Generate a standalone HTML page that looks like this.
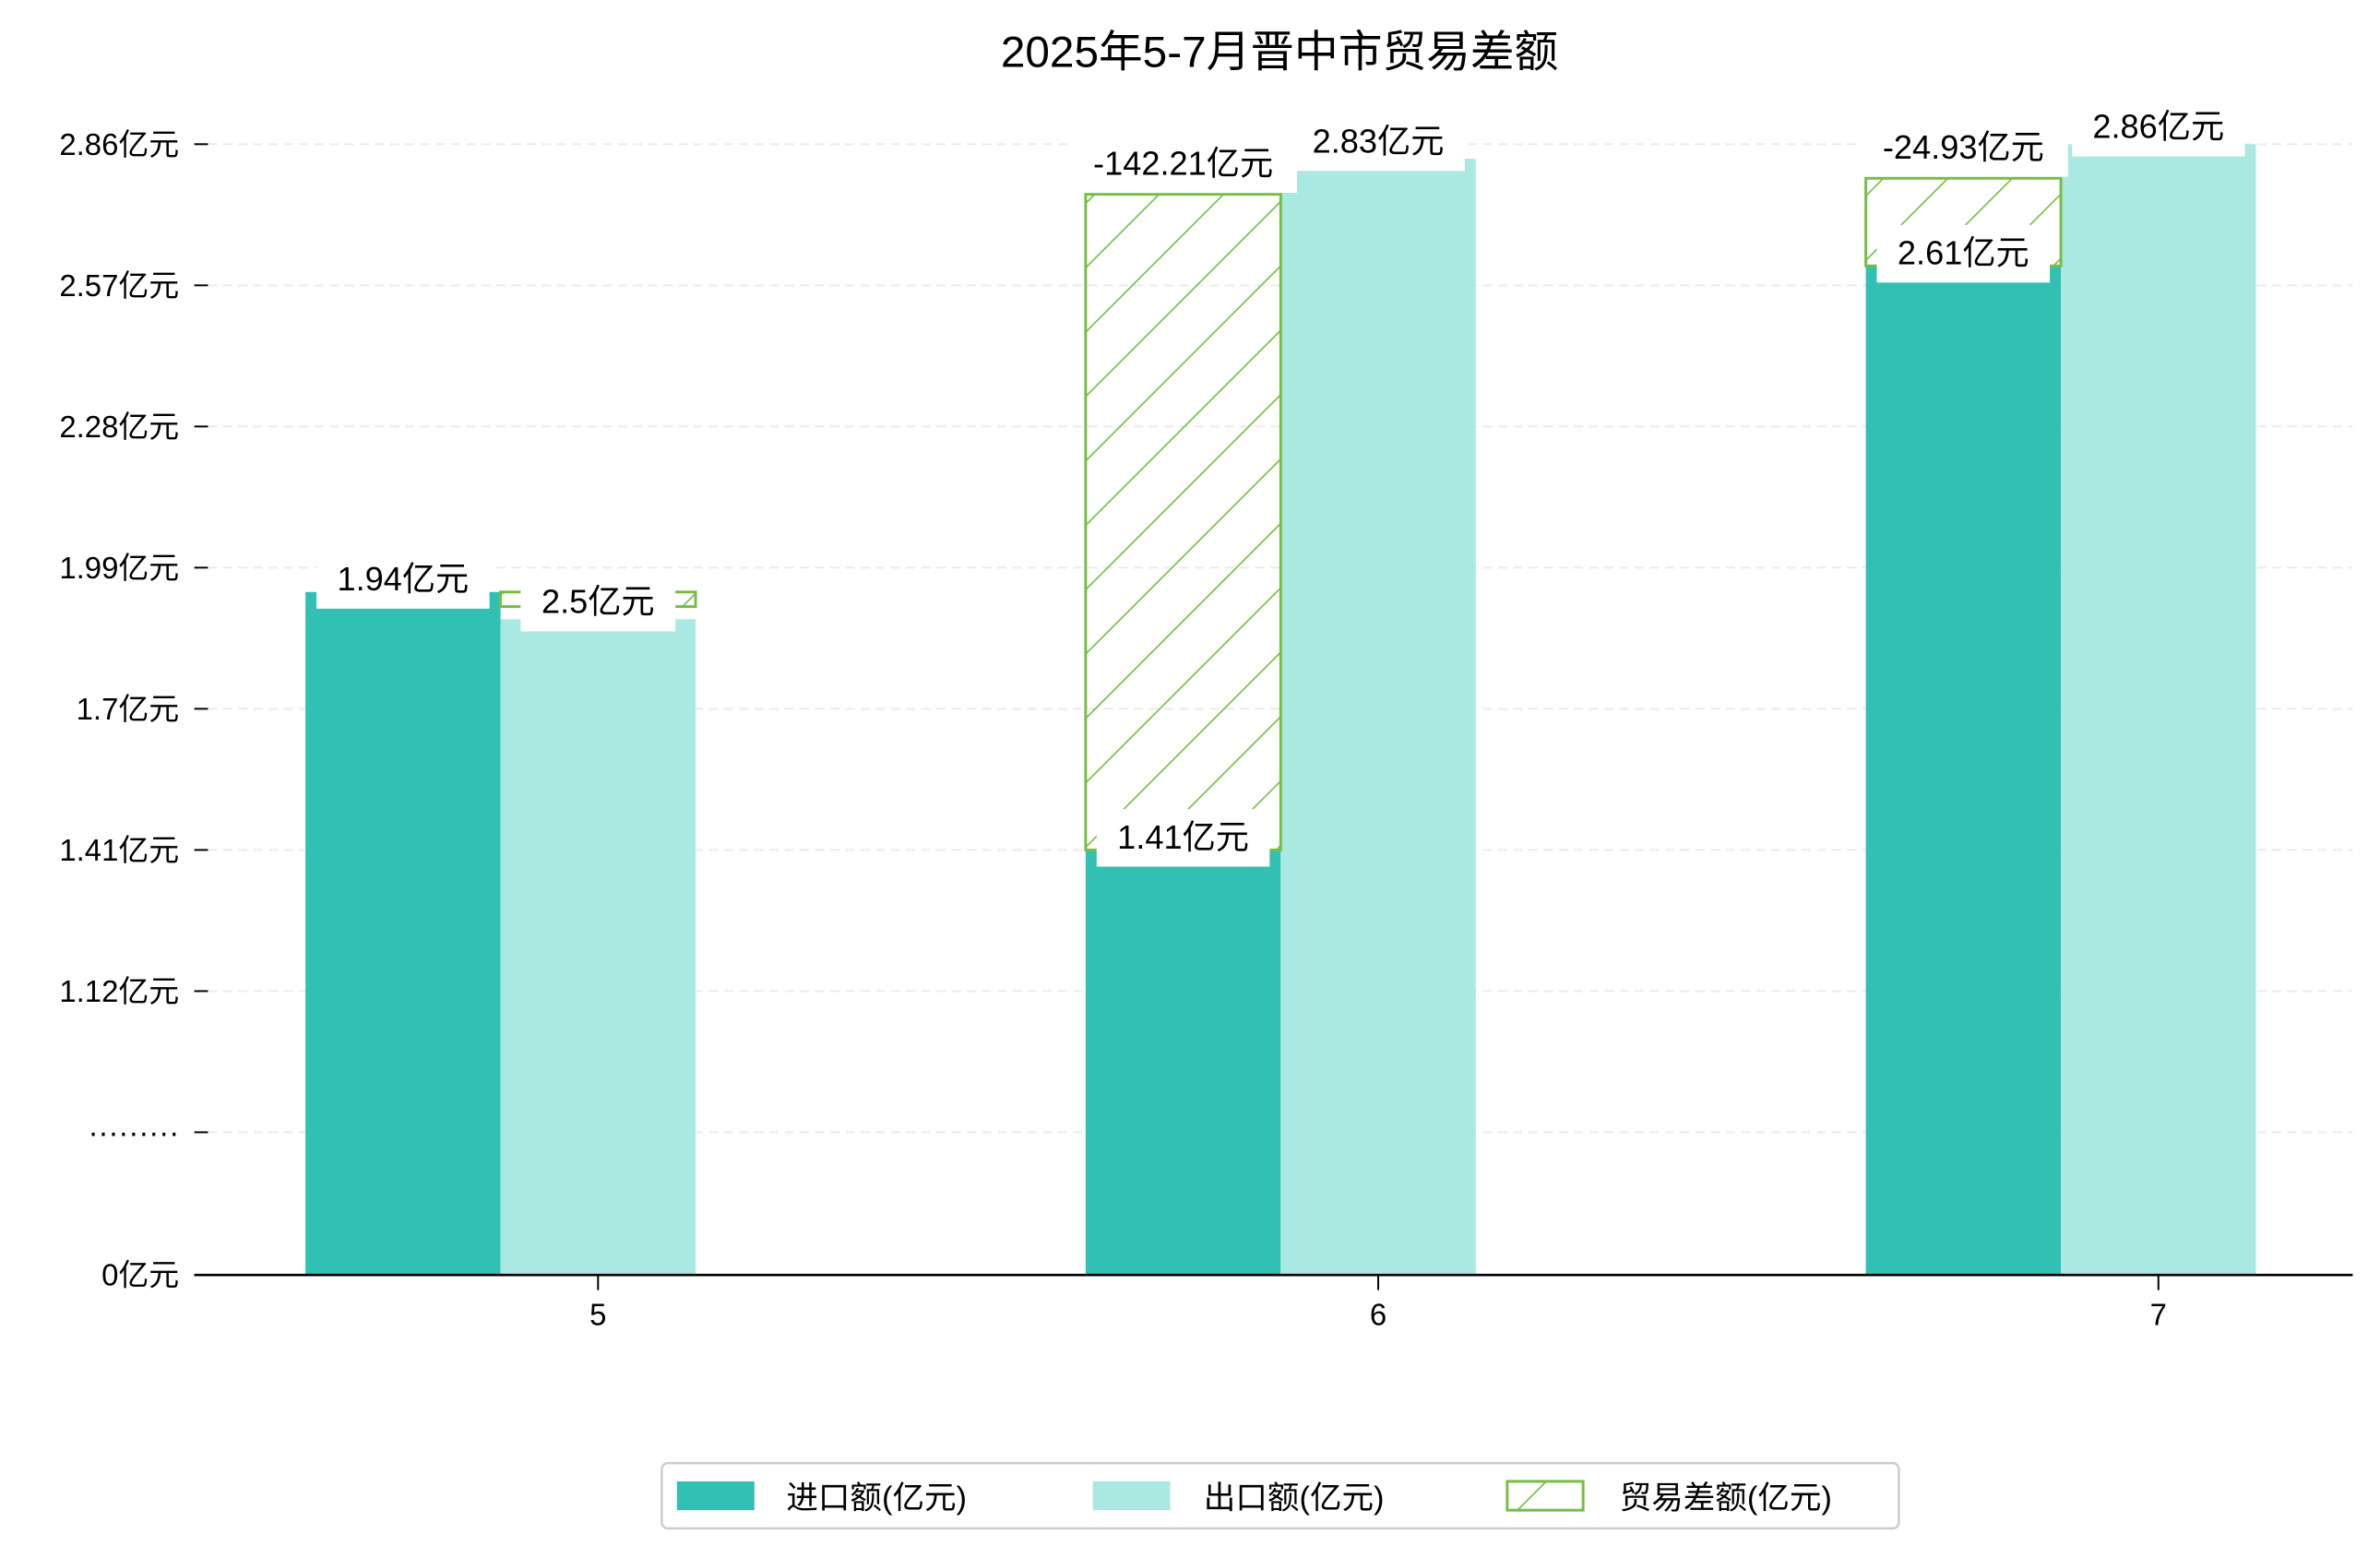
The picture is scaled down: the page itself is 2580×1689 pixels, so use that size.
<!DOCTYPE html>
<html><head><meta charset="utf-8">
<style>
html,body{margin:0;padding:0;background:#fff;}
svg{display:block;}
text{font-family:"Liberation Sans","Noto Sans CJK SC","WenQuanYi Zen Hei",sans-serif;fill:#000;}
</style></head>
<body>
<svg id="chart" width="2580" height="1689" viewBox="0 0 1568 1026.5" preserveAspectRatio="none" xmlns="http://www.w3.org/2000/svg">
<defs>
<pattern id="hatch" patternUnits="userSpaceOnUse" width="30" height="30" patternTransform="rotate(45)">
<line x1="0" y1="0" x2="0" y2="30" stroke="#76bd43" stroke-width="2"/>
</pattern>
</defs>
<text x="843" y="44" font-size="29" text-anchor="middle">2025年5-7月晋中市贸易差额</text>
<g id="grid"></g>
<g id="bars"></g>
<g id="labels"></g>
<g id="axes"></g>
<g>
<rect x="436" y="964" width="815" height="43" rx="4" fill="#fff" stroke="#ccc" stroke-width="1.5"/>
<rect x="446" y="976" width="51" height="19" fill="#31c0b3"/>
<text x="518" y="994" font-size="21">进口额(亿元)</text>
<rect x="720" y="976" width="51" height="19" fill="#aae8e2"/>
<text x="793" y="994" font-size="21">出口额(亿元)</text>
<rect x="993" y="976" width="50" height="19" fill="url(#hatch)" stroke="#76bd43" stroke-width="1.8"/>
<text x="1067" y="994" font-size="21">贸易差额(亿元)</text>
</g>
</svg>
<script>
const categories = ["5","6","7"];
const importValues = [1.94, 1.41, 2.61];
const exportValues = [1.884, 2.83, 2.86];
const balanceTop = [1.94, 2.757, 2.79];
const balanceBase = [1.91, 1.41, 2.61];
const balanceColumn = [1, 0, 0];
const importLabels = ["1.94亿元","1.41亿元","2.61亿元"];
const exportLabels = ["2.5亿元","2.83亿元","2.86亿元"];
const balanceLabels = ["","-142.21亿元","-24.93亿元"];
const tickValues = [0, 0.83, 1.12, 1.41, 1.70, 1.99, 2.28, 2.57, 2.86];
const tickLabels = ["0亿元","·········","1.12亿元","1.41亿元","1.7亿元","1.99亿元","2.28亿元","2.57亿元","2.86亿元"];

const NS = "http://www.w3.org/2000/svg";
function y(v){ return v >= 0.83 ? 746 - (v - 0.83) / 0.29 * 93 : 840 - v / 0.83 * 94; }
const x0 = 394, step = 514, bw = 128.5;
function xc(i){ return x0 + i * step; }
function colX(i, c){ return xc(i) - 1.5 * bw + c * bw; }
function mk(tag, attrs, parent){ const e = document.createElementNS(NS, tag); for (const k in attrs) e.setAttribute(k, attrs[k]); parent.appendChild(e); return e; }

const grid = document.getElementById('grid'), axes = document.getElementById('axes');
const bars = document.getElementById('bars'), labels = document.getElementById('labels');
tickValues.forEach((v, i) => {
  const yy = y(v);
  if (i > 0) {
    const g = mk('line', {x1:137, x2:1550, y1:yy, y2:yy, stroke:'#ebebeb', 'stroke-width':1.2, 'stroke-dasharray':'6 4'}, grid);
    
    
  }
  const t = mk('line', {x1:128, x2:137, y1:yy, y2:yy, stroke:'#000', 'stroke-width':1.2}, axes);
  
  
  const tl = mk('text', {x:118, y:yy + 7, 'font-size':20, 'text-anchor':'end'}, axes);
  tl.textContent = tickLabels[i];
  
  
});
const ax = mk('line', {x1:128, x2:1550, y1:840, y2:840, stroke:'#000', 'stroke-width':1.6}, axes);



function label(txt, cx, top, name){
  if (!txt) return;
  const w = txt.length * 12 + 42;
  const r = mk('rect', {x:cx - w/2, y:top - 38, width:w, height:38, fill:'#fff'}, labels);
  
  
  const t = mk('text', {x:cx, y:top - 12, 'font-size':22, 'text-anchor':'middle'}, labels);
  t.textContent = txt;
  
  
}

categories.forEach((c, i) => {
  const r1 = mk('rect', {x:colX(i,0), y:y(importValues[i]), width:bw, height:840 - y(importValues[i]), fill:'#31c0b3'}, bars);
  
  
  const r2 = mk('rect', {x:colX(i,1), y:y(exportValues[i]), width:bw, height:840 - y(exportValues[i]), fill:'#aae8e2'}, bars);
  
  
  const bx = colX(i, balanceColumn[i]);
  const r3 = mk('rect', {x:bx, y:y(balanceTop[i]), width:bw, height:y(balanceBase[i]) - y(balanceTop[i]), fill:'url(#hatch)', stroke:'#76bd43', 'stroke-width':1.8}, bars);
  
  
  const tk = mk('line', {x1:xc(i), x2:xc(i), y1:840, y2:850, stroke:'#000', 'stroke-width':1.2}, axes);
  
  
  const tl = mk('text', {x:xc(i), y:873, 'font-size':20, 'text-anchor':'middle'}, axes);
  tl.textContent = c;
  
  
});
categories.forEach((c, i) => {
  label(importLabels[i], colX(i,0) + bw/2, y(importValues[i]) + 11, 'import-value-label');
  label(exportLabels[i], colX(i,1) + bw/2, y(exportValues[i]) + 8, 'export-value-label');
  label(balanceLabels[i], colX(i,balanceColumn[i]) + bw/2, y(balanceTop[i]) - 1, 'balance-value-label');
});
</script>
</body></html>
